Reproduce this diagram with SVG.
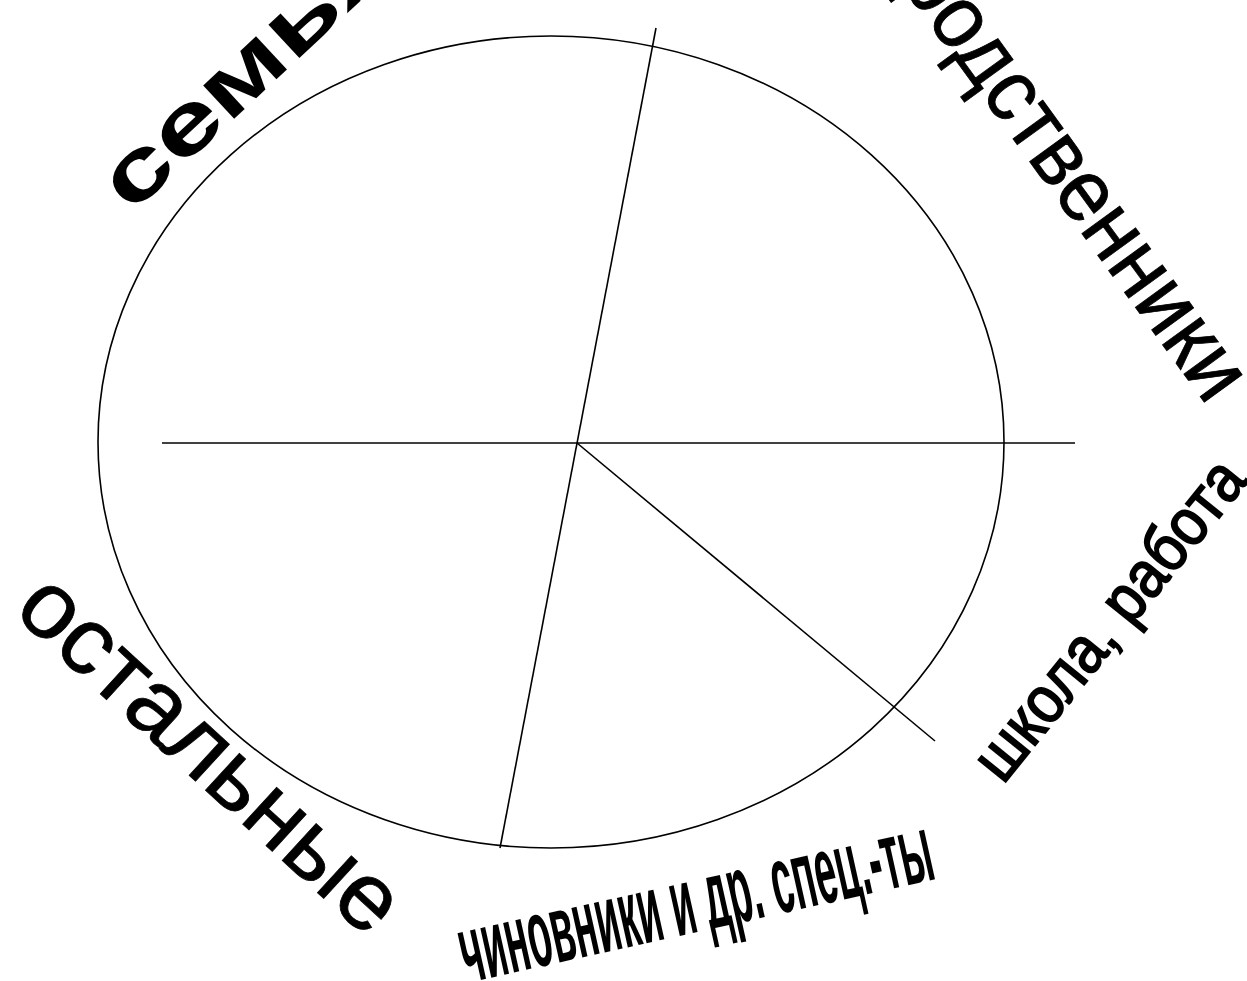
<svg xmlns="http://www.w3.org/2000/svg" width="1247" height="981" viewBox="0 0 1247 981">
<style>
.ln{fill:none;stroke:#000;stroke-width:1.6}
.t{font-family:"Liberation Sans",Arial,sans-serif;fill:#000}
.b{font-weight:bold}
</style>
<rect width="1247" height="981" fill="#fff"/>
<g id="connectors">
<ellipse class="ln" cx="551" cy="442" rx="453" ry="406"/>
<line class="ln" x1="162" y1="443" x2="1075" y2="443"/>
<line class="ln" x1="656" y1="28" x2="500" y2="848"/>
<line class="ln" x1="577" y1="443" x2="935" y2="741"/>
</g>
<g id="semya"><text class="t b" font-size="86" text-anchor="middle" transform="translate(265,90) rotate(-43) scale(1.4,1)">семья</text></g>
<g id="rodstvenniki"><text class="t" font-size="82" text-anchor="middle" textLength="526" lengthAdjust="spacingAndGlyphs" stroke="#000" stroke-width="0.8" transform="translate(1053,194) rotate(54) scale(1,1.08)">родственники</text></g>
<g id="shkola"><text class="t" font-size="60" text-anchor="middle" textLength="391" lengthAdjust="spacingAndGlyphs" stroke="#000" stroke-width="1.8" transform="translate(1126,633) rotate(-51) scale(1,1.1)">школа, работа</text></g>
<g id="chinovniki"><text class="t b" font-size="96" textLength="482" lengthAdjust="spacingAndGlyphs" transform="translate(467,983) rotate(-12.5)">чиновники и др. спец.-ты</text></g>
<g id="ostalnye"><text class="t" font-size="95" text-anchor="middle" textLength="484" lengthAdjust="spacingAndGlyphs" stroke="#000" stroke-width="0.8" transform="translate(190,776) rotate(42.5)">остальные</text></g>
</svg>
